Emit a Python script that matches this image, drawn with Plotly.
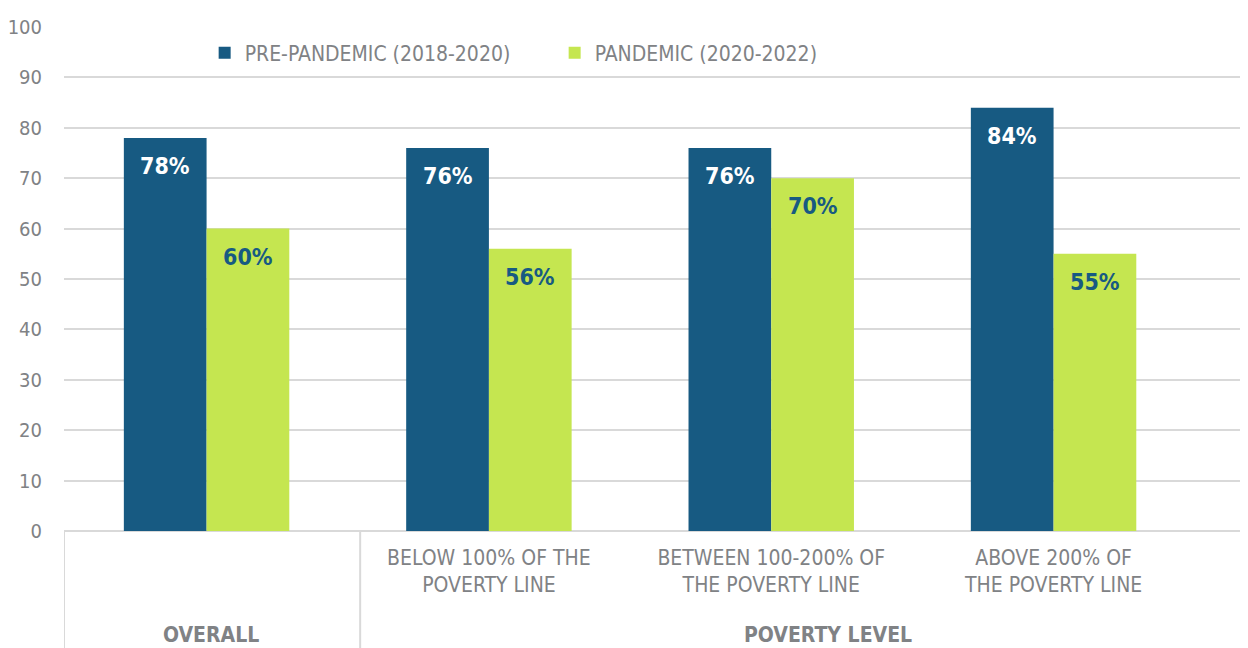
import plotly.graph_objects as go

# ---- data ----
categories = ["OVERALL", "BELOW 100% OF THE<br>POVERTY LINE",
              "BETWEEN 100-200% OF<br>THE POVERTY LINE", "ABOVE 200% OF<br>THE POVERTY LINE"]
tick_labels = ["", "BELOW 100% OF THE<br>POVERTY LINE",
               "BETWEEN 100-200% OF<br>THE POVERTY LINE", "ABOVE 200% OF<br>THE POVERTY LINE"]
group_labels = ["OVERALL", "POVERTY LEVEL"]
series_names = ["PRE-PANDEMIC (2018-2020)", "PANDEMIC (2020-2022)"]
pre_pandemic = [78, 76, 76, 84]
pandemic = [60, 56, 70, 55]
y_ticks = [0, 10, 20, 30, 40, 50, 60, 70, 80, 90, 100]

# ---- style ----
BLUE = "#175a82"
GREEN = "#c5e650"
GRAY_TXT = "#808285"
GRID = "#d9d9d9"
FONT = "Liberation Sans Narrow, DejaVu Sans Condensed, Arial Narrow, sans-serif"
BARGAP = 0.414

xpos = list(range(len(categories)))
x_range = [-0.505, 3.717]

fig = go.Figure()
series = [(pre_pandemic, series_names[0], BLUE, "white"),
          (pandemic, series_names[1], GREEN, BLUE)]
for vals, name, col, _ in series:
    fig.add_trace(go.Bar(
        x=xpos, y=vals, name=name,
        marker=dict(color=col, line=dict(width=0)),
        hoverinfo="x+y+name",
    ))

# value labels placed inside each bar, a little below its top
bar_w = (1 - BARGAP) / len(series)
for k, (vals, name, col, txtcol) in enumerate(series):
    off = (k - (len(series) - 1) / 2) * bar_w
    for xi, v in zip(xpos, vals):
        fig.add_annotation(x=xi + off, y=v, xref="x", yref="y", text=f"<b>{v}%</b>",
                           showarrow=False, xanchor="center", yanchor="middle", yshift=-28,
                           font=dict(family=FONT, size=23, color=txtcol))

fig.update_layout(
    width=1248, height=648,
    margin=dict(l=52, r=0, t=19, b=125),
    paper_bgcolor="white", plot_bgcolor="white",
    barmode="group", bargap=BARGAP, bargroupgap=0,
    font=dict(family=FONT, color=GRAY_TXT, size=20),
    legend=dict(orientation="h", x=0.118, xanchor="left", y=0.948, yanchor="middle",
                font=dict(family=FONT, size=21, color=GRAY_TXT),
                bgcolor="rgba(255,255,255,0)", borderwidth=0,
                entrywidth=305, entrywidthmode="pixels"),
    showlegend=True,
)
fig.update_yaxes(range=[0, 100], tickvals=y_ticks, showgrid=True, gridcolor=GRID, gridwidth=1.5,
                 zeroline=True, zerolinecolor=GRID, zerolinewidth=2, showline=False,
                 ticks="", ticklabelstandoff=21,
                 tickfont=dict(family=FONT, size=20, color=GRAY_TXT))
fig.update_xaxes(range=x_range, tickvals=xpos, ticktext=tick_labels, showgrid=False,
                 zeroline=False, showline=False, ticks="", ticklabelstandoff=12,
                 tickfont=dict(family=FONT, size=21, color=GRAY_TXT))

# group dividers under the axis
divider_x = [x_range[0], 0.544]
for dx in divider_x:
    fig.add_shape(type="line", xref="x", yref="paper", x0=dx, x1=dx, y0=0, y1=-0.26,
                  line=dict(color=GRID, width=2))

# group labels
for gx, lbl in zip([0.014, 2.2], group_labels):
    fig.add_annotation(x=gx, xref="x", y=-0.206, yref="paper", text=f"<b>{lbl}</b>",
                       showarrow=False, xanchor="center", yanchor="middle",
                       font=dict(family=FONT, size=21, color=GRAY_TXT))

fig.write_html("out.html")
